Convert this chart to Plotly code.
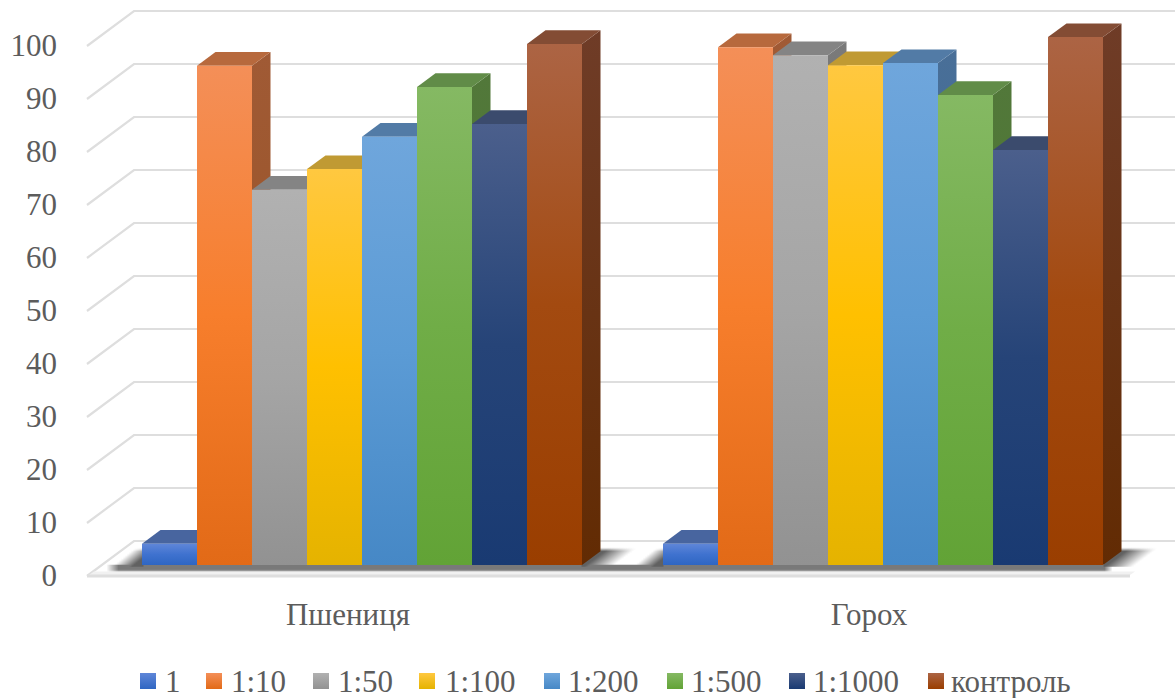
import plotly.graph_objects as go

# Germination data by dilution
categories = ["Пшениця", "Горох"]
series_names = ["1", "1:10", "1:50", "1:100", "1:200", "1:500", "1:1000", "контроль"]
dilution_1 = [4.0, 4.0]
dilution_10 = [94.2, 97.7]
dilution_50 = [70.8, 96.2]
dilution_100 = [74.7, 94.3]
dilution_200 = [80.8, 94.7]
dilution_500 = [90.2, 88.7]
dilution_1000 = [83.2, 78.3]
control = [98.3, 99.6]
all_series = [dilution_1, dilution_10, dilution_50, dilution_100,
              dilution_200, dilution_500, dilution_1000, control]
y_ticks = list(range(0, 101, 10))

# Face colours: front (bottom, middle, top), top face, side (bottom, top)
styles = [
    (("#2f66c2", "#3f72cf", "#5f86d8"), "#48659f", ("#2c4f92", "#3d5f9f")),
    (("#e26a17", "#f77e2c", "#f48f58"), "#b7693d", ("#97521f", "#a05a35")),
    (("#929292", "#a5a5a5", "#b1b1b1"), "#848484", ("#686868", "#7a7a7a")),
    (("#e5b300", "#ffc000", "#ffc840"), "#c09a33", ("#a58500", "#b08e2c")),
    (("#4688c6", "#5b9bd5", "#6fa6dc"), "#527ba6", ("#36648f", "#496f98")),
    (("#62a336", "#70ad47", "#85b963"), "#618c48", ("#47742a", "#52783a")),
    (("#193a72", "#264478", "#4b5f8c"), "#3b4b6d", ("#1b2d50", "#2f3f60")),
    (("#9a3e00", "#a34a10", "#ac6444"), "#834c34", ("#622b03", "#6f3c27")),
]

# Oblique projection: pixel sizes of one category and of one value unit
X_UNIT = 521.0
Y_UNIT = 5.3
MARGIN_L = 62
HEIGHT = 698
CAT0_PX = 348
FLOOR_PX = 576
AXIS_PX = 586.6
BAR_W = 55 / X_UNIT
FRONT_DX = 14 / X_UNIT
FRONT_DY = 11 / Y_UNIT
FACE_DX = 18.5 / X_UNIT
FACE_DY = 13.7 / Y_UNIT
WALL_DX = 47 / X_UNIT
WALL_DY = 35 / Y_UNIT
FONT_SIZE = 31
GRID = "#dedede"
TEXT = "#5c5c5c"
FONT = "Liberation Serif"

# Legend layout: left edge of each square and of each label, in page pixels
LEGEND_SQUARE_PX = [140, 206, 313, 419, 544, 667, 789, 928]
LEGEND_TEXT_PX = [165, 231, 338, 445, 568, 691, 813, 951]
LEGEND_Y_PX = 681
LEGEND_SQUARE = 16


def xp(p):
    return (p - CAT0_PX) / X_UNIT


def yp(p):
    return (FLOOR_PX - p) / Y_UNIT


def clamp(t):
    return max(0.0, min(1.0, t))


X_RANGE = [xp(MARGIN_L), xp(1175)]
fig = go.Figure()


def polygon(xs, ys, stops, low, high):
    scale = [[i / (len(stops) - 1), c] for i, c in enumerate(stops)]
    fig.add_trace(go.Scatter(
        x=xs + xs[:1], y=ys + ys[:1], mode="none", fill="toself",
        fillgradient=dict(type="vertical", colorscale=scale, start=low, stop=high),
        showlegend=False, hoverinfo="skip",
    ))


# Back wall, left wall and front floor edge
left_edge = xp(87)
for v in y_ticks:
    fig.add_trace(go.Scatter(
        x=[left_edge, left_edge + WALL_DX, X_RANGE[1]],
        y=[v, v + WALL_DY, v + WALL_DY],
        mode="lines", line=dict(color=GRID, width=2.2), showlegend=False, hoverinfo="skip",
    ))
polygon([xp(89), xp(1130), xp(1135), xp(94)], [yp(575), yp(575), yp(571.5), yp(571.5)],
        ("#f1f1f1", "#f1f1f1"), yp(575), yp(571.5))
fig.add_trace(go.Scatter(
    x=[left_edge, xp(1130)], y=[0, 0],
    mode="lines", line=dict(color=GRID, width=3), showlegend=False, hoverinfo="skip",
))

# Soft floor shadow, as an opacity map under the bars
n = len(all_series)
group_spans = [(CAT0_PX + c * X_UNIT + 14 - n * 55 / 2,
                CAT0_PX + c * X_UNIT + 14 + n * 55 / 2) for c in range(len(categories))]


def shadow_opacity(px, py):
    band = clamp((px - 106) / 12) * clamp((1112 - px) / 8) * clamp((573 - py) / 3.5) * clamp(py - 564)
    best = band * 0.8
    if 547 <= py <= 566:
        rise = 566 - py
        fade_top = clamp((py - 547.5) / 3.5)
        for bar0, bar1 in group_spans:
            if px < bar0 + 1:
                start = bar0 - 30 + rise * 1.25
                best = max(best, clamp((px - start) / 20) * fade_top * 0.95)
            elif px > bar1 - 1:
                end = bar1 + 30 + rise * 1.35
                best = max(best, clamp((end - px) / 28) * fade_top * 0.95)
    return best


shadow_x = list(range(100, 1162, 2))
shadow_y = [y / 2 for y in range(574 * 2, 546 * 2 - 1, -1)]
fig.add_trace(go.Heatmap(
    x=[xp(p) for p in shadow_x], y=[yp(p) for p in shadow_y],
    z=[[shadow_opacity(px, py) for px in shadow_x] for py in shadow_y],
    zmin=0, zmax=1, zsmooth="best", showscale=False, hoverinfo="skip",
    colorscale=[[0, "rgba(88,88,88,0)"], [1, "rgba(88,88,88,1)"]],
))

# Bars, painted left to right so nearer faces overlap correctly
for c in range(len(categories)):
    for s, values in enumerate(all_series):
        v = values[c]
        front, top_face, side = styles[s]
        xl = c + FRONT_DX - n * BAR_W / 2 + s * BAR_W
        xr = xl + BAR_W
        yb = FRONT_DY
        yt = yb + v
        polygon([xr, xr + FACE_DX, xr + FACE_DX, xr],
                [yb, yb + FACE_DY, yt + FACE_DY, yt], side, yb, yt + FACE_DY)
        polygon([xl, xl + FACE_DX, xr + FACE_DX, xr],
                [yt, yt + FACE_DY, yt + FACE_DY, yt], (top_face, top_face), yt, yt + FACE_DY)
        polygon([xl, xr, xr, xl], [yb, yb, yt, yt], front, yb, yt)

# Legend row: gradient squares with their labels
annotations = []
for s, name in enumerate(series_names):
    front = styles[s][0]
    fig.add_trace(go.Scatter(
        x=[xp(LEGEND_SQUARE_PX[s] + LEGEND_SQUARE / 2)], y=[yp(LEGEND_Y_PX)],
        mode="markers", name=name, showlegend=False,
        marker=dict(symbol="square", size=LEGEND_SQUARE, color=front[2],
                    gradient=dict(type="vertical", color=front[0])),
    ))
    annotations.append(dict(
        text=name, xref="x", yref="y", x=xp(LEGEND_TEXT_PX[s]), y=yp(LEGEND_Y_PX),
        xanchor="left", yanchor="middle", showarrow=False, xshift=-2,
        font=dict(family=FONT, size=FONT_SIZE, color=TEXT),
    ))

fig.update_layout(
    width=1175, height=HEIGHT,
    margin=dict(l=MARGIN_L, r=0, t=0, b=0),
    paper_bgcolor="white", plot_bgcolor="white",
    font=dict(family=FONT, size=FONT_SIZE, color=TEXT),
    xaxis=dict(range=X_RANGE, tickmode="array", tickvals=[0, 1], ticktext=categories,
               showgrid=False, zeroline=False, showline=False, ticks="",
               anchor="free", position=(HEIGHT - AXIS_PX) / HEIGHT,
               ticklabelstandoff=6),
    yaxis=dict(range=[yp(HEIGHT), yp(0)], tickmode="array", tickvals=y_ticks,
               showgrid=False, zeroline=False, showline=False, ticks="",
               ticklabelshift=-1, ticklabelstandoff=4),
    annotations=annotations,
    showlegend=False,
)

fig.write_html("out.html")
